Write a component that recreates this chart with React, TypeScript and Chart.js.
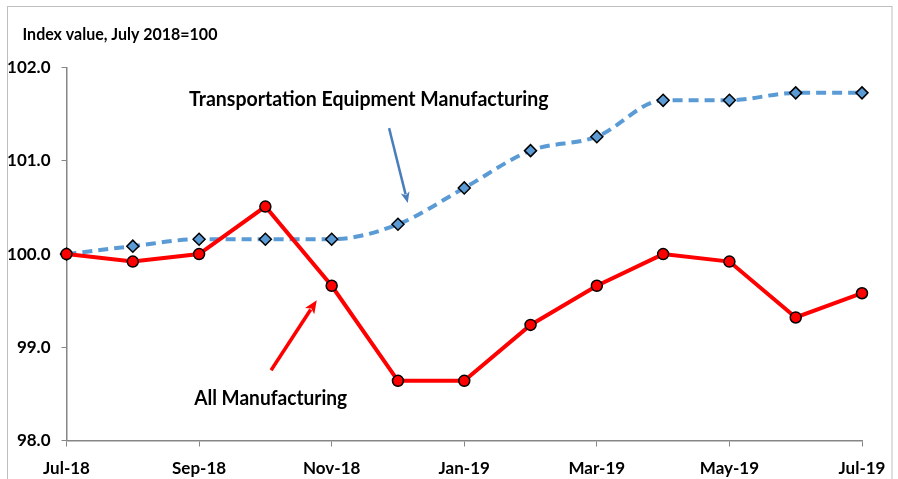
import { useEffect, useRef } from "react";
import { Chart, registerables } from "chart.js";

Chart.register(...registerables);

const months = [
  "Jul-18", "Aug-18", "Sep-18", "Oct-18", "Nov-18", "Dec-18", "Jan-19",
  "Feb-19", "Mar-19", "Apr-19", "May-19", "Jun-19", "Jul-19",
];
const allManufacturing = [
  100.0, 99.92, 100.0, 100.51, 99.66, 98.64, 98.64, 99.24, 99.66, 100.0, 99.92, 99.32, 99.58,
];
const transportationEquipment = [
  100.0, 100.085, 100.16, 100.16, 100.16, 100.32, 100.71, 101.11, 101.26, 101.65, 101.65, 101.73, 101.73,
];
const yMin = 98;
const yMax = 102;
const axisTitle = "Index value, July 2018=100";
const seriesNames = ["All Manufacturing", "Transportation Equipment Manufacturing"];

// annotation positions in data space (x = month index, y = index value)
const labelTransport = { x: 4.56, y: 101.59 };
const labelAll = { x: 3.08, y: 98.377 };
const arrowTransport = { x1: 4.866, y1: 101.352, x2: 5.148, y2: 100.547 };
const arrowAll = { x1: 3.086, y1: 98.753, x2: 3.775, y2: 99.505 };

const FONT = "Lato, 'DejaVu Sans Condensed', sans-serif";
const AXIS_GRAY = "#868686";

function drawArrow(ctx: CanvasRenderingContext2D, x1: number, y1: number, x2: number, y2: number, color: string, width: number, headLen: number, headW: number) {
  const ang = Math.atan2(y2 - y1, x2 - x1);
  const bx = x2 - Math.cos(ang) * headLen;
  const by = y2 - Math.sin(ang) * headLen;
  ctx.save();
  ctx.strokeStyle = color;
  ctx.fillStyle = color;
  ctx.lineWidth = width;
  ctx.beginPath();
  ctx.moveTo(x1, y1);
  ctx.lineTo(bx + Math.cos(ang) * 2, by + Math.sin(ang) * 2);
  ctx.stroke();
  ctx.beginPath();
  ctx.moveTo(x2, y2);
  ctx.lineTo(bx + Math.cos(ang + Math.PI / 2) * headW, by + Math.sin(ang + Math.PI / 2) * headW);
  ctx.lineTo(bx + Math.cos(ang) * 3, by + Math.sin(ang) * 3);
  ctx.lineTo(bx + Math.cos(ang - Math.PI / 2) * headW, by + Math.sin(ang - Math.PI / 2) * headW);
  ctx.closePath();
  ctx.fill();
  ctx.restore();
}

// draw text horizontally condensed (narrow look of the original)
function condensedText(ctx: CanvasRenderingContext2D, text: string, x: number, y: number, sx: number, align: CanvasTextAlign) {
  ctx.save();
  ctx.translate(x, y);
  ctx.scale(sx, 1);
  ctx.textAlign = align;
  ctx.textBaseline = "alphabetic";
  ctx.fillText(text, 0, 0);
  ctx.restore();
}

const decorPlugin = {
  id: "decor",
  beforeDraw(chart: any) {
    const ctx = chart.ctx as CanvasRenderingContext2D;
    ctx.save();
    ctx.fillStyle = "#ffffff";
    ctx.fillRect(0, 0, chart.width, chart.height);
    ctx.strokeStyle = "#BFBFBF";
    ctx.lineWidth = 1;
    ctx.strokeRect(7.5, 6.5, 884.5, 500);
    ctx.restore();
  },
  afterDraw(chart: any) {
    const ctx = chart.ctx as CanvasRenderingContext2D;
    const xs = chart.scales.x;
    const ys = chart.scales.y;
    ctx.save();
    ctx.fillStyle = "#000";
    ctx.font = `bold 17px ${FONT}`;
    condensedText(ctx, axisTitle, chart.chartArea.left - 44, 39.5, 0.94, "left");

    ctx.font = `bold 21px ${FONT}`;
    condensedText(ctx, seriesNames[1], xs.getPixelForValue(labelTransport.x), ys.getPixelForValue(labelTransport.y), 0.93, "center");
    condensedText(ctx, seriesNames[0], xs.getPixelForValue(labelAll.x), ys.getPixelForValue(labelAll.y), 0.91, "center");
    ctx.restore();

    drawArrow(
      ctx,
      xs.getPixelForValue(arrowTransport.x1), ys.getPixelForValue(arrowTransport.y1),
      xs.getPixelForValue(arrowTransport.x2), ys.getPixelForValue(arrowTransport.y2),
      "#4A7EBB", 2.5, 11, 4.5,
    );
    drawArrow(
      ctx,
      xs.getPixelForValue(arrowAll.x1), ys.getPixelForValue(arrowAll.y1),
      xs.getPixelForValue(arrowAll.x2), ys.getPixelForValue(arrowAll.y2),
      "#FF0000", 3.5, 13, 5.5,
    );
  },
};

export default function App() {
  const ref = useRef<HTMLCanvasElement | null>(null);

  useEffect(() => {
    document.body.style.margin = "0";
    const canvas = ref.current;
    if (!canvas) return;
    const chart = new Chart(canvas, {
      type: "line",
      data: {
        datasets: [
          {
            label: seriesNames[0],
            data: allManufacturing.map((v, i) => ({ x: i, y: v })),
            borderColor: "#FF0000",
            backgroundColor: "#FF0000",
            borderWidth: 4,
            pointStyle: "circle",
            pointRadius: 5.5,
            pointBackgroundColor: "#FF0000",
            pointBorderColor: "#000000",
            pointBorderWidth: 1.5,
            tension: 0,
            clip: false,
          },
          {
            label: seriesNames[1],
            data: transportationEquipment.map((v, i) => ({ x: i, y: v })),
            borderColor: "#5B9BD5",
            backgroundColor: "#5B9BD5",
            borderWidth: 4,
            borderDash: [10, 6],
            pointStyle: "rectRot",
            pointRadius: 6,
            pointBackgroundColor: "#5B9BD5",
            pointBorderColor: "#000000",
            pointBorderWidth: 1.5,
            cubicInterpolationMode: "monotone",
            tension: 0.4,
            clip: false,
          },
        ],
      },
      options: {
        animation: false,
        responsive: false,
        devicePixelRatio: 1,
        layout: { padding: { left: 0, right: 36, top: 67.7, bottom: 0 } },
        plugins: {
          legend: { display: false },
          title: { display: false },
          tooltip: { enabled: false },
        },
        scales: {
          x: {
            type: "linear",
            min: 0,
            max: months.length - 1,
            afterFit: (s: any) => { s.height = 38.5; },
            grid: { display: true, drawOnChartArea: false, drawTicks: true, tickLength: 6, color: AXIS_GRAY },
            border: { display: true, color: AXIS_GRAY, width: 1.5 },
            ticks: {
              stepSize: 2,
              autoSkip: false,
              maxRotation: 0,
              padding: 12,
              color: "#000",
              font: { family: FONT, size: 17, weight: "bold" },
              callback: (v: any) => months[Math.round(Number(v))] ?? "",
            },
          },
          y: {
            min: yMin,
            max: yMax,
            afterFit: (s: any) => { s.width = 66.5; },
            grid: { display: true, drawOnChartArea: false, drawTicks: true, tickLength: 5, color: AXIS_GRAY },
            border: { display: true, color: AXIS_GRAY, width: 1.5 },
            ticks: {
              stepSize: 1,
              padding: 11,
              color: "#000",
              font: { family: FONT, size: 17, weight: "bold" },
              callback: (v: any) => Number(v).toFixed(1),
            },
          },
        },
      },
      plugins: [decorPlugin],
    });
    return () => chart.destroy();
  }, []);

  return (
    <div style={{ position: "absolute", left: 0, top: 0, width: 898, height: 479 }}>
      <canvas ref={ref} width={898} height={479} style={{ width: 898, height: 479 }} />
    </div>
  );
}
